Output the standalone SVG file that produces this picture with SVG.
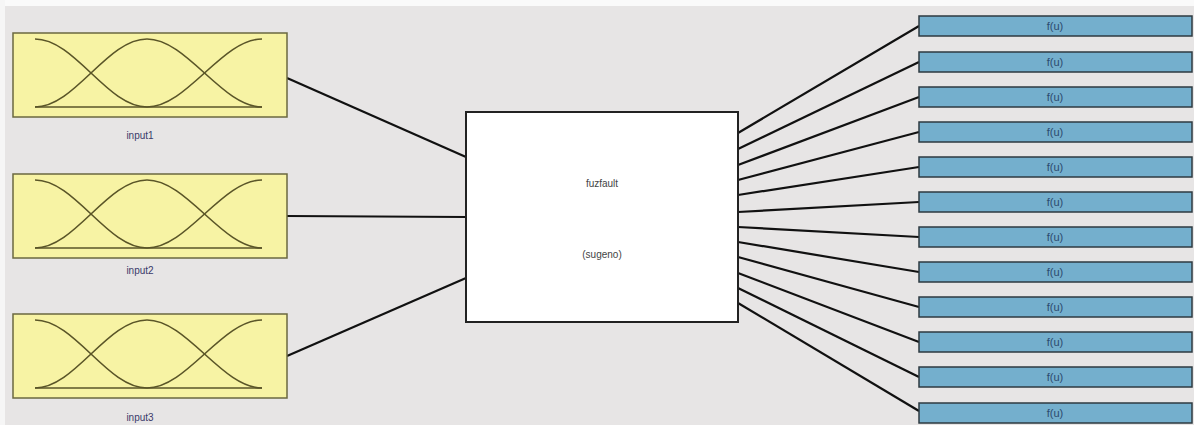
<svg xmlns="http://www.w3.org/2000/svg" width="1194" height="425" viewBox="0 0 1194 425">
<style>
.bg{fill:#e7e5e5}
.inbox{fill:#f7f3a4;stroke:#6b6840;stroke-width:1.5}
.mf{fill:none;stroke:#5a5528;stroke-width:1.6}
.lbl{font-family:"Liberation Sans",Arial,sans-serif;font-size:10px;fill:#3a3a6a;text-anchor:middle}
.core{fill:#ffffff;stroke:#222;stroke-width:2}
.ctext{font-family:"Liberation Sans",Arial,sans-serif;font-size:10px;fill:#444;text-anchor:middle}
.outbox{fill:#74afcd;stroke:#2e3a40;stroke-width:1.5}
.otext{font-family:"Liberation Sans",Arial,sans-serif;font-size:11px;fill:#2c4a6e;text-anchor:middle}
.conn{stroke:#111;stroke-width:2.2;fill:none}
</style>
<defs>
<g id="mfs">
<path class="mf" d="M22,6 C62,6 94,74 134,74"/>
<path class="mf" d="M22,74 C62,74 94,6 134,6 C174,6 209,74 249,74"/>
<path class="mf" d="M134,74 C174,74 209,6 249,6"/>
<path class="mf" d="M22,74 L249,74"/>
</g>
</defs>
<rect class="bg" x="0" y="0" width="1194" height="425"/>
<rect x="0" y="0" width="1194" height="6" fill="#fafafa"/>
<rect x="0" y="0" width="5" height="425" fill="#f6f6f6"/>
<g id="connectors">
<line class="conn" x1="287" y1="78" x2="466" y2="157"/>
<line class="conn" x1="287" y1="216" x2="466" y2="217"/>
<line class="conn" x1="287" y1="356" x2="466" y2="278"/>
<line class="conn" x1="738" y1="133" x2="919" y2="26"/>
<line class="conn" x1="738" y1="149" x2="919" y2="62"/>
<line class="conn" x1="738" y1="165" x2="919" y2="97"/>
<line class="conn" x1="738" y1="180" x2="919" y2="132"/>
<line class="conn" x1="738" y1="195" x2="919" y2="167"/>
<line class="conn" x1="738" y1="212" x2="919" y2="202"/>
<line class="conn" x1="738" y1="227" x2="919" y2="237"/>
<line class="conn" x1="738" y1="242" x2="919" y2="272"/>
<line class="conn" x1="738" y1="257" x2="919" y2="307"/>
<line class="conn" x1="738" y1="273" x2="919" y2="342"/>
<line class="conn" x1="738" y1="288" x2="919" y2="377"/>
<line class="conn" x1="738" y1="303" x2="919" y2="411"/>
</g>
<g id="input1">
<rect class="inbox" x="13" y="33" width="274" height="84"/>
<use href="#mfs" transform="translate(13,33)"/>
<text class="lbl" x="140" y="139">input1</text>
</g>
<g id="input2">
<rect class="inbox" x="13" y="174" width="274" height="84"/>
<use href="#mfs" transform="translate(13,174)"/>
<text class="lbl" x="140" y="274">input2</text>
</g>
<g id="input3">
<rect class="inbox" x="13" y="314" width="274" height="84"/>
<use href="#mfs" transform="translate(13,314)"/>
<text class="lbl" x="140" y="421">input3</text>
</g>
<g id="fuzfault">
<rect class="core" x="466" y="112" width="272" height="210"/>
<text class="ctext" x="602" y="187">fuzfault</text>
<text class="ctext" x="602" y="258">(sugeno)</text>
</g>
<g id="out1"><rect class="outbox" x="919" y="16" width="273" height="20"/><text class="otext" x="1055" y="30">f(u)</text></g>
<g id="out2"><rect class="outbox" x="919" y="52" width="273" height="20"/><text class="otext" x="1055" y="66">f(u)</text></g>
<g id="out3"><rect class="outbox" x="919" y="87" width="273" height="20"/><text class="otext" x="1055" y="101">f(u)</text></g>
<g id="out4"><rect class="outbox" x="919" y="122" width="273" height="20"/><text class="otext" x="1055" y="136">f(u)</text></g>
<g id="out5"><rect class="outbox" x="919" y="157" width="273" height="20"/><text class="otext" x="1055" y="171">f(u)</text></g>
<g id="out6"><rect class="outbox" x="919" y="192" width="273" height="20"/><text class="otext" x="1055" y="206">f(u)</text></g>
<g id="out7"><rect class="outbox" x="919" y="227" width="273" height="20"/><text class="otext" x="1055" y="241">f(u)</text></g>
<g id="out8"><rect class="outbox" x="919" y="262" width="273" height="20"/><text class="otext" x="1055" y="276">f(u)</text></g>
<g id="out9"><rect class="outbox" x="919" y="297" width="273" height="20"/><text class="otext" x="1055" y="311">f(u)</text></g>
<g id="out10"><rect class="outbox" x="919" y="332" width="273" height="20"/><text class="otext" x="1055" y="346">f(u)</text></g>
<g id="out11"><rect class="outbox" x="919" y="367" width="273" height="20"/><text class="otext" x="1055" y="381">f(u)</text></g>
<g id="out12"><rect class="outbox" x="919" y="403" width="273" height="20"/><text class="otext" x="1055" y="417">f(u)</text></g>
</svg>
